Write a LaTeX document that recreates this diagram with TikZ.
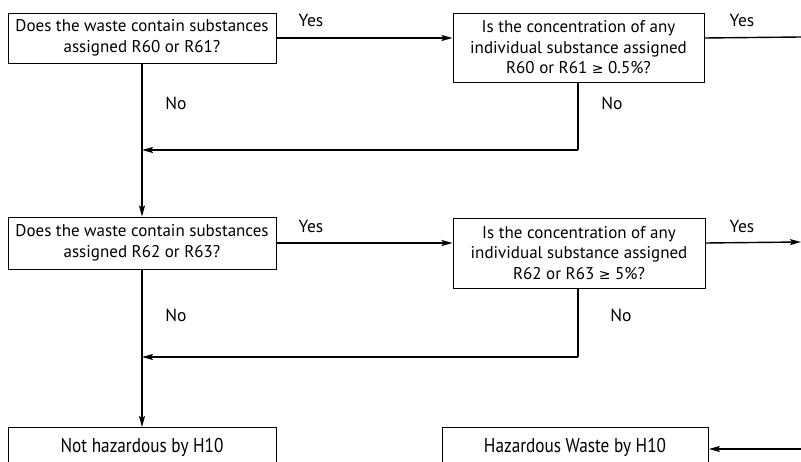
\documentclass[tikz,border=0pt]{standalone}
\usepackage{fontspec}
\setmainfont{PT Sans}
\newfontfamily\symfont{DejaVu Sans}
\usetikzlibrary{arrows.meta}
\begin{document}
\begin{tikzpicture}[x=1pt,y=-1pt,
  box/.style={draw,line width=0.9pt,inner sep=0pt,align=center,
    font=\fontsize{17}{20.5}\selectfont},
  endbox/.style={draw,line width=0.9pt,inner sep=0pt,anchor=north west},
  lbl/.style={font=\fontsize{17.5}{20}\selectfont,inner sep=0pt},
  conn/.style={line width=1.4pt},
  arr/.style={conn,-{Stealth[length=11pt,width=6pt,inset=2pt]}}]
\useasboundingbox (0,0) rectangle (801,462);
\clip (0,0) rectangle (801,462);
% question boxes
\node[box,minimum width=268pt,minimum height=50pt] (b1) at (142,38)
  {Does the waste contain substances\\assigned R60 or R61?};
\node[box,minimum width=251pt,minimum height=69pt] (b2) at (578.5,47.5)
  {Is the concentration of any\\individual substance assigned\\R60 or R61 {\symfont\fontsize{14}{20}\selectfont ≥} 0.5\%?};
\node[box,minimum width=268pt,minimum height=52pt] (b3) at (142,243)
  {Does the waste contain substances\\assigned R62 or R63?};
\node[box,minimum width=252pt,minimum height=70pt] (b4) at (579,253)
  {Is the concentration of any\\individual substance assigned\\R62 or R63 {\symfont\fontsize{14}{20}\selectfont ≥} 5\%?};
% outcome boxes (cut off by the page edge)
\node[endbox,minimum width=268pt,minimum height=50pt] (b5) at (8,427) {};
\node[endbox,minimum width=266pt,minimum height=50pt] (b6) at (442,427) {};
\node[inner sep=0pt] (t5) at (142,447) {\fontsize{20}{24}\selectfont\scalebox{0.86}[1]{Not hazardous by H10}};
\node[inner sep=0pt] (t6) at (575,447) {\fontsize{20}{24}\selectfont\scalebox{0.86}[1]{Hazardous Waste by H10}};
% free ends and junctions
\coordinate (r1) at (801,37);
\coordinate (r2) at (801,242);
\coordinate (r3) at (801,449);
\coordinate (j1) at (578,150);
\coordinate (j2) at (578,357);
% connectors
\draw[arr] (b1.east) -- (b1.east -| b2.west);
\draw[conn] (b1.east -| b2.east) -- (r1);
\draw[arr] (b1.south) -- (b3.north);
\draw[conn] (b2.south -| j1) -- (j1);
\draw[arr] (j1) -- (j1 -| b1.south);
\draw[arr] (b3.east) -- (b3.east -| b4.west);
\draw[arr] (b3.east -| b4.east) -- (r2);
\draw[arr] (b3.south) -- (b5.north -| b3.south);
\draw[conn] (b4.south -| j2) -- (j2);
\draw[arr] (j2) -- (j2 -| b3.south);
\draw[arr] (r3) -- (r3 -| b6.east);
% labels
\node[lbl] (y1) at (311,20) {Yes};
\node[lbl] (y2) at (742,20) {Yes};
\node[lbl] (n1) at (176,103) {No};
\node[lbl] (n2) at (612,103) {No};
\node[lbl] (y3) at (311,226) {Yes};
\node[lbl] (y4) at (742,226) {Yes};
\node[lbl] (n3) at (176,315) {No};
\node[lbl] (n4) at (621,315) {No};
\end{tikzpicture}
\end{document}
